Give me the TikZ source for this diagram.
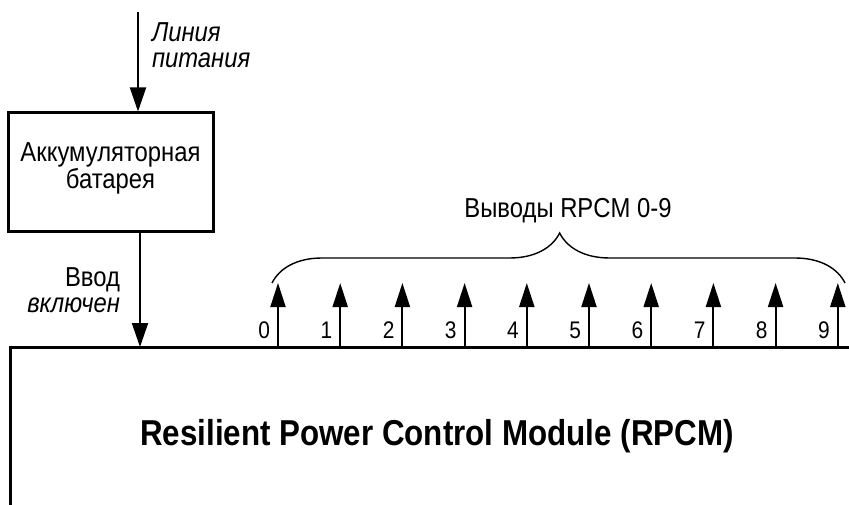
\documentclass[tikz,border=0pt]{standalone}
\usepackage{fontspec}
\setmainfont{Liberation Sans}[FakeStretch=0.87]
\usetikzlibrary{arrows.meta,decorations.pathreplacing}

\begin{document}
\begin{tikzpicture}[x=1pt, y=-1pt, >={Triangle[length=24pt,width=16pt]}, line width=2pt,
    txt/.style={font=\fontsize{27.4}{26}\selectfont, inner sep=0pt},
    pin/.style={->, >={Triangle[length=24pt,width=15pt]}}]
        \def\step{62.2}
        \useasboundingbox (0,0) rectangle (849,505);

        % аккумуляторная батарея
        \node[draw, line width=3pt, minimum width=205pt, minimum height=119pt, txt,
              font=\fontsize{27.4}{23}\selectfont, text depth=14pt, align=center]
            (bat) at (110.5,172.5) {Аккумуляторная\\батарея};

        % линия питания сверху
        \coordinate (feed) at (138,12);
        \draw[->] (feed) -- (feed |- bat.north);
        \node[txt, anchor=north west, align=left, font=\fontsize{27.4}{26}\selectfont\itshape]
            (feedlbl) at (151,21.5) {Линия\\питания};

        % модуль RPCM (выходит за края)
        \coordinate (mLB) at (10,505);
        \coordinate (mLT) at (10,347);
        \coordinate (mRT) at (849,347);
        \draw[line width=3pt] (mLB) -- (mLT) -- (mRT);
        \node[txt, anchor=base, font=\fontsize{36}{40}\selectfont\bfseries] (rpcm) at (437,445)
            {Resilient Power Control Module (RPCM)};

        % ввод от батареи
        \coordinate (inp) at (140,347);
        \draw[->] (bat.south -| inp) -- (inp);
        \node[txt, anchor=north east, align=right] (inplbl) at (121,266.5)
            {Ввод\\\itshape включен};

        % выводы 0-9
        \foreach \i in {0,...,9} {
            \coordinate (out\i) at ({278+\step*\i},347);
            \draw[pin] (out\i) -- ++(0,-64);
            \node[txt, font=\fontsize{24}{24}\selectfont, anchor=base east] (num\i) at ([shift={(-7,-9)}]out\i) {\i};
        }

        % фигурная скобка
        \coordinate (brL) at (272,283);
        \coordinate (brR) at (845,283);
        \draw[line width=1.4pt, decorate, decoration={brace, amplitude=50pt, aspect=0.502}] (brL) -- (brR);
        \node[txt, anchor=base] (outlbl) at (568,218) {Выводы RPCM 0-9};

    \end{tikzpicture}
\end{document}
